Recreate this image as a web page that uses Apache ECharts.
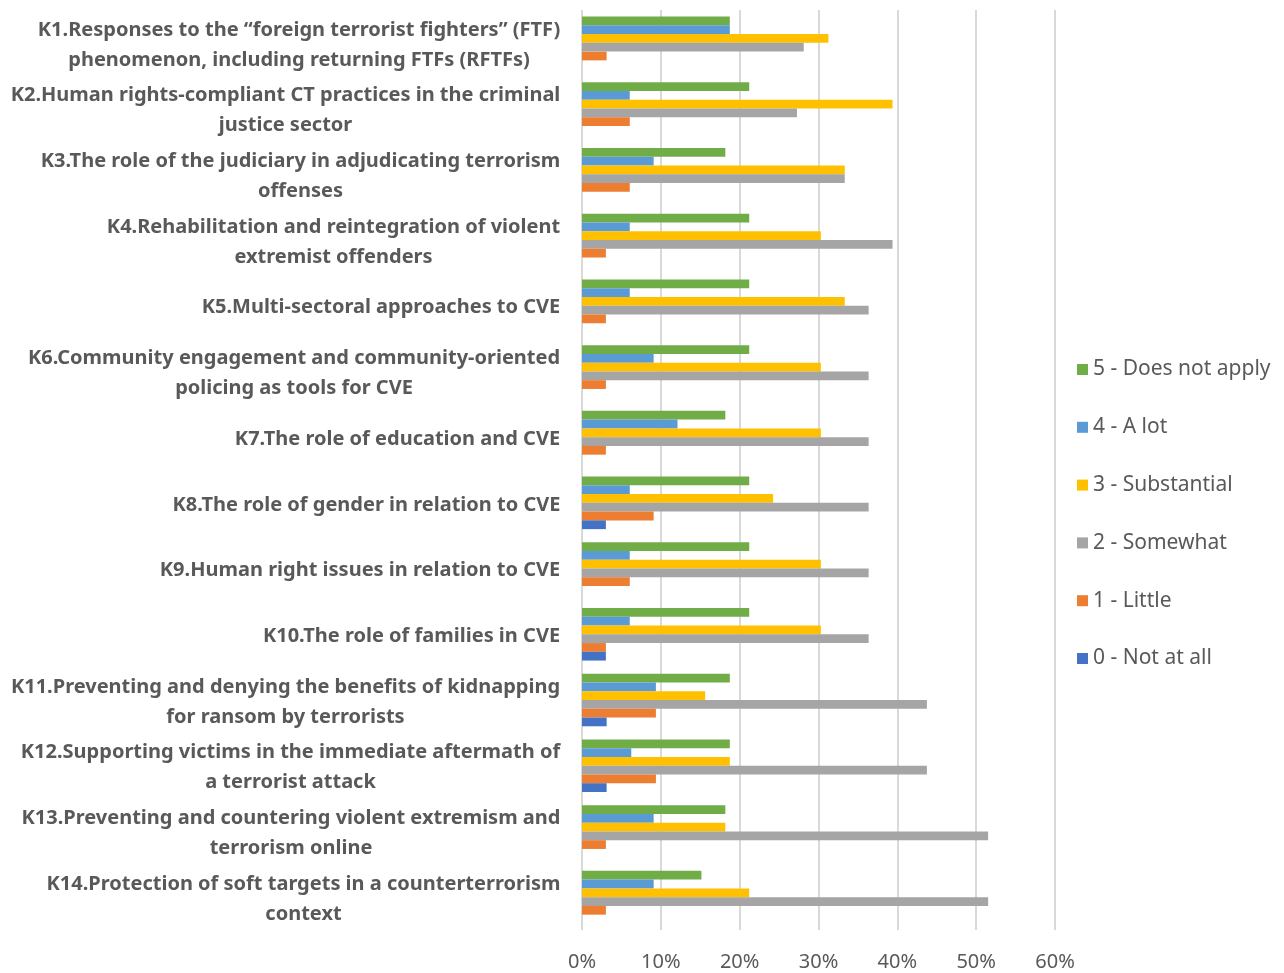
<!DOCTYPE html>
<html>
<head>
<meta charset="UTF-8">
<title>K1-K14</title>
<script src="https://cdn.jsdelivr.net/npm/echarts@6/dist/echarts.min.js"></script>
<style>
  html, body { margin: 0; padding: 0; background: #fff; }
  #chart { width: 1284px; height: 973px; }
</style>
</head>
<body>
<div id="chart"></div>
<script type="text/javascript">
var categories = [
  'K1.Responses to the \u201cforeign terrorist fighters\u201d (FTF)\nphenomenon, including returning FTFs (RFTFs)',
  'K2.Human rights-compliant CT practices in the criminal\njustice sector',
  'K3.The role of the judiciary in adjudicating terrorism\noffenses',
  'K4.Rehabilitation and reintegration of violent\nextremist offenders',
  'K5.Multi-sectoral approaches to CVE',
  'K6.Community engagement and community-oriented\npolicing as tools for CVE',
  'K7.The role of education and CVE',
  'K8.The role of gender in relation to CVE',
  'K9.Human right issues in relation to CVE',
  'K10.The role of families in CVE',
  'K11.Preventing and denying the benefits of kidnapping\nfor ransom by terrorists',
  'K12.Supporting victims in the immediate aftermath of\na terrorist attack',
  'K13.Preventing and countering violent extremism and\nterrorism online',
  'K14.Protection of soft targets in a counterterrorism\ncontext'
];

// shares per answer, K1..K14
var doesNotApply = [0.1875, 0.2121, 0.1818, 0.2121, 0.2121, 0.2121, 0.1818, 0.2121, 0.2121, 0.2121, 0.1875, 0.1875, 0.1818, 0.1515];
var aLot        = [0.1875, 0.0606, 0.0909, 0.0606, 0.0606, 0.0909, 0.1212, 0.0606, 0.0606, 0.0606, 0.09375, 0.0625, 0.0909, 0.0909];
var substantial = [0.3125, 0.3939, 0.3333, 0.3030, 0.3333, 0.3030, 0.3030, 0.2424, 0.3030, 0.3030, 0.15625, 0.1875, 0.1818, 0.2121];
var somewhat    = [0.28125, 0.2727, 0.3333, 0.3939, 0.3636, 0.3636, 0.3636, 0.3636, 0.3636, 0.3636, 0.4375, 0.4375, 0.5152, 0.5152];
var little      = [0.03125, 0.0606, 0.0606, 0.0303, 0.0303, 0.0303, 0.0303, 0.0909, 0.0606, 0.0303, 0.09375, 0.09375, 0.0303, 0.0303];
var notAtAll    = [0, 0, 0, 0, 0, 0, 0, 0.0303, 0, 0.0303, 0.03125, 0.03125, 0, 0];

var seriesNames = ['5 - Does not apply', '4 - A lot', '3 - Substantial', '2 - Somewhat', '1 - Little', '0 - Not at all'];
var seriesData = [doesNotApply, aLot, substantial, somewhat, little, notAtAll];
var seriesColors = ['#70AD47', '#5B9BD5', '#FFC000', '#A5A5A5', '#ED7D31', '#4472C4'];

var fontName = 'Noto Sans';
var labelFont = 'bold 20px ' + fontName;

// each label block is right aligned to the axis, its lines centred in the block
var ctx = document.createElement('canvas').getContext('2d');
ctx.font = labelFont;
var rich = {};
for (var i = 0; i < categories.length; i++) {
  var lines = categories[i].split('\n');
  var w = 0;
  for (var j = 0; j < lines.length; j++) {
    w = Math.max(w, ctx.measureText(lines[j]).width);
  }
  rich['c' + i] = {
    width: Math.ceil(w) + 1,
    align: 'center',
    fontFamily: fontName,
    fontWeight: 'bold',
    fontSize: 20,
    lineHeight: 30,
    color: '#595959'
  };
}

var series = [];
for (var s = 0; s < seriesNames.length; s++) {
  series.push({
    name: seriesNames[s],
    type: 'bar',
    data: seriesData[s],
    barGap: '0%',
    barCategoryGap: '20%',
    itemStyle: { color: seriesColors[s] }
  });
}

var chart = echarts.init(document.getElementById('chart'));
chart.setOption({
  animation: false,
  textStyle: { fontFamily: fontName },
  grid: { left: 582, right: 229, top: 10, bottom: 43 },
  legend: {
    orient: 'vertical',
    left: 1072,
    top: 354,
    itemWidth: 11,
    itemHeight: 11,
    itemGap: 36.8,
    icon: 'rect',
    data: seriesNames,
    textStyle: { fontSize: 21, lineHeight: 20, color: '#595959', fontFamily: fontName }
  },
  xAxis: {
    type: 'value',
    min: 0,
    max: 0.6,
    interval: 0.1,
    axisLine: { show: false },
    axisTick: { show: false },
    axisLabel: {
      margin: 22,
      fontSize: 20,
      color: '#595959',
      formatter: function (v) { return Math.round(v * 100) + '%'; }
    },
    splitLine: { lineStyle: { color: '#D9D9D9', width: 2 } }
  },
  yAxis: {
    type: 'category',
    inverse: true,
    data: categories,
    axisLine: { show: false },
    axisTick: { show: false },
    axisLabel: {
      margin: 21,
      padding: [4, 0, 0, 0],
      formatter: function (value, index) {
        return value.split('\n').map(function (l) {
          return '{c' + index + '|' + l + '}';
        }).join('\n');
      },
      rich: rich
    }
  },
  series: series
});
</script>
</body>
</html>
